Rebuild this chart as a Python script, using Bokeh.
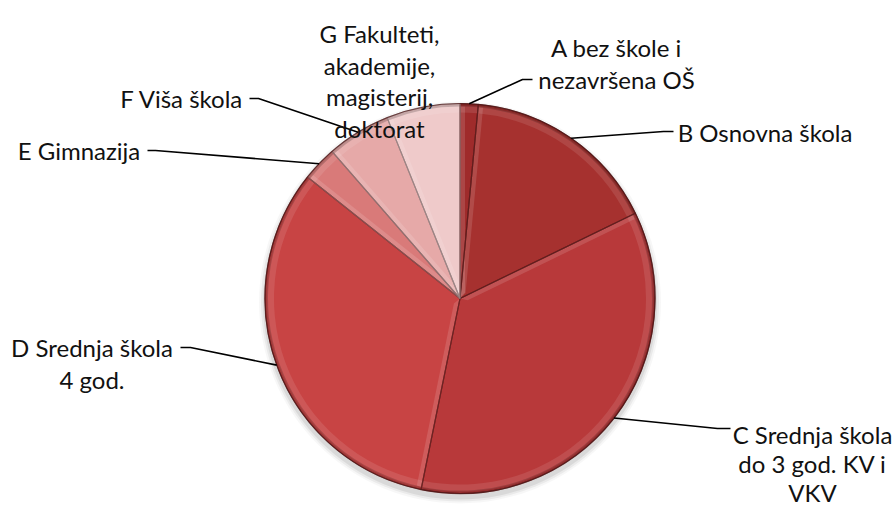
import math
from bokeh.plotting import figure
from bokeh.models import Range1d
from bokeh.core.properties import value
from bokeh.embed import file_html
from bokeh.resources import INLINE

# ---- data ----
categories = ["A bez škole i\nnezavršena OŠ", "B Osnovna škola",
              "C Srednja škola\ndo 3 god. KV i\nVKV", "D Srednja škola\n4 god.",
              "E Gimnazija", "F Viša škola", "G Fakulteti,\nakademije,\nmagisterij,\ndoktorat"]
shares = [1.5, 16.3, 35.4, 32.5, 2.9, 5.3, 6.1]

# ---- style / layout ----
colors = ["#9f2b2b", "#a6312f", "#b8393a", "#c84444", "#d97a79", "#e6a9a8", "#efcaca"]
sep_colors = ["#5e1a1a", "#5e1a1a", "#5e1a1a", "#6a2020", "#8a5555", "#8f7373", "#9a8585"]
W, H = 896, 507

def X(ix):
    return ix

def Y(iy):
    return H - iy

CX, CY, R = X(459.5), Y(298), 195

# label text centres (image coords): (x, first baseline, line step)
label_pos = [(616, 47, 31.5), (764.5, 132, 31.5), (812, 434, 29), (91.5, 347, 31.5),
             (78.5, 150, 31.5), (181.5, 98, 31.5), (379, 33, 31.5)]
# leader elbow points (image coords): (elbow_x, elbow_y, end_x)
leaders = [(522, 79, 532), (663, 131, 673), (717, 428, 730), (190, 347, 180),
           (155, 150, 147), (258, 98, 249), None]

p = figure(width=W, height=H, x_range=Range1d(0, W), y_range=Range1d(0, H),
           output_backend="svg", toolbar_location=None, min_border=0,
           outline_line_color=None, background_fill_color="white")
p.axis.visible = False
p.grid.visible = False

# soft drop shadow
for dr, a in [(6, 0.03), (4, 0.05), (2, 0.07)]:
    p.circle(x=[CX], y=[CY - 4], radius=R + dr, fill_color="black", fill_alpha=a, line_color=None)

total = sum(shares)
cum = 0.0
mids, t_starts = [], []
starts, ends = [], []
for s in shares:
    t0 = cum / total * 360.0
    cum += s
    t1 = cum / total * 360.0
    starts.append(math.radians(90 - t1))
    ends.append(math.radians(90 - t0))
    mids.append(math.radians((t0 + t1) / 2))
    t_starts.append(math.radians(t0))

n = len(shares)
p.wedge(x=[CX] * n, y=[CY] * n, radius=R, start_angle=starts, end_angle=ends,
        fill_color=colors, line_color=None)

# bevel highlight strips along the leading edge of each slice
hx, hy = [], []
for t0 in t_starts:
    ux, uy = math.sin(t0), math.cos(t0)
    nx, ny = math.cos(t0), -math.sin(t0)
    w = 5
    hx.append([CX, CX + (R - 3) * ux, CX + (R - 3) * ux + w * nx, CX + w * nx + 6 * ux])
    hy.append([CY, CY + (R - 3) * uy, CY + (R - 3) * uy + w * ny, CY + w * ny + 6 * uy])
p.patches(xs=hx, ys=hy, fill_color="white", fill_alpha=0.13, line_color=None)

# bevel: light inner band + darker rim
p.annular_wedge(x=[CX] * n, y=[CY] * n, inner_radius=R - 9, outer_radius=R - 2,
                start_angle=starts, end_angle=ends, fill_color="white", fill_alpha=0.10, line_color=None)
p.annular_wedge(x=[CX] * n, y=[CY] * n, inner_radius=R - 3, outer_radius=R,
                start_angle=starts, end_angle=ends, fill_color="black", fill_alpha=0.18, line_color=None)

# slice separators
p.wedge(x=[CX] * n, y=[CY] * n, radius=R, start_angle=starts, end_angle=ends,
        fill_color=None, line_color=sep_colors, line_width=1.2, line_alpha=0.8)
p.circle(x=[CX], y=[CY], radius=R, fill_color=None, line_color="#4a1414", line_width=1.2, line_alpha=0.7)

# leader lines
xs, ys = [], []
for m, ld in zip(mids, leaders):
    if ld is None:
        continue
    rx = CX + R * math.sin(m)
    ry = CY + R * math.cos(m)
    ex, ey, endx = ld
    xs.append([rx, X(ex), X(endx)])
    ys.append([ry, Y(ey), Y(ey)])
p.multi_line(xs=xs, ys=ys, line_color="black", line_width=1.6)

# labels
tx, ty, tt = [], [], []
for cat, (lx, ly, step) in zip(categories, label_pos):
    for k, line in enumerate(cat.split("\n")):
        tx.append(X(lx))
        ty.append(Y(ly + k * step))
        tt.append(line)
p.text(x=tx, y=ty, text=tt, text_font=value("Lato"), text_font_size="24px",
       text_align="center", text_baseline="alphabetic", text_color="#111111")

open("out.html", "w").write(file_html(p, INLINE))
